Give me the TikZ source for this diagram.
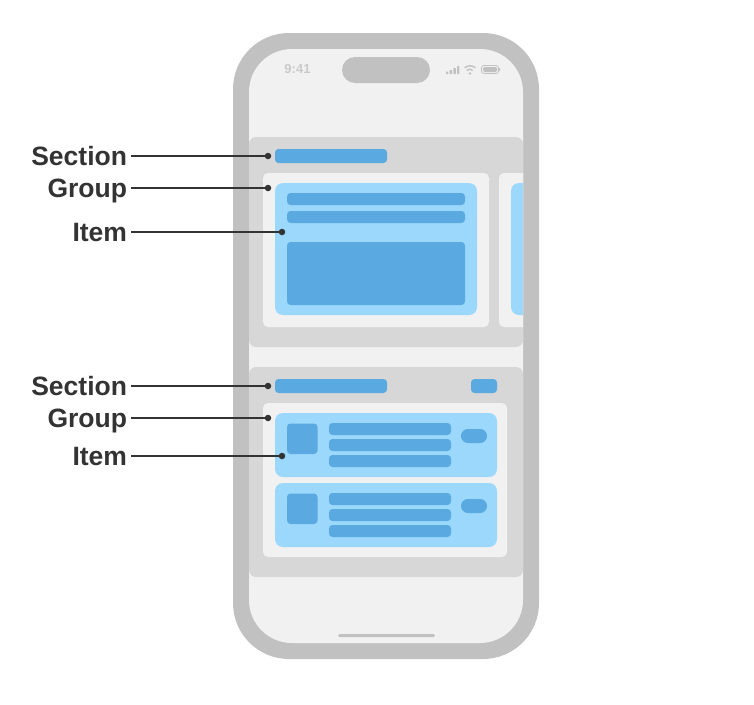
\documentclass[tikz,border=0pt]{standalone}
\usepackage{fontspec}
\usepackage{xcolor}
\setmainfont{Liberation Sans}
\usetikzlibrary{positioning}
\definecolor{frame}{HTML}{C1C1C1}
\definecolor{screen}{HTML}{F1F1F1}
\definecolor{panel}{HTML}{D7D7D7}
\definecolor{barblue}{HTML}{5AA9E1}
\definecolor{lightblue}{HTML}{9BD8FC}
\definecolor{darkgray}{HTML}{333333}

\begin{document}
\begin{tikzpicture}[
  x=1pt, y=-1pt,
  phone/.style={fill=frame, rounded corners=56pt},
  display/.style={fill=screen, rounded corners=43pt},
  section/.style={fill=panel, rounded corners=7pt},
  group/.style={fill=screen, rounded corners=5pt},
  item/.style={fill=lightblue, rounded corners=8pt},
  bar/.style={fill=barblue, rounded corners=3.5pt},
  pill/.style={fill=barblue, rounded corners=6.9pt},
  tag/.style={anchor=east, inner sep=0pt, outer sep=4pt, text height=24pt, text depth=6pt,
              font=\bfseries\fontsize{26.5}{28}\selectfont, text=darkgray},
  dot/.style={circle, fill=darkgray, inner sep=0pt, minimum size=6.5pt},
  leader/.style={draw=darkgray, line width=2.2pt}
]
  \useasboundingbox (0,0) rectangle (754,704);

  % phone body
  \fill[phone] (233,33) rectangle (539,659);
  \fill[display] (249,49) rectangle (523,643);
  \fill[frame, rounded corners=13pt] (342,57) rectangle (430,83);
  \fill[frame, rounded corners=1.5pt] (338,634) rectangle (435,637);

  % status bar
  \node[font=\bfseries\fontsize{13}{14}\selectfont, text=frame!85!white, inner sep=0pt] (clock) at (297.5,69) {9:41};
  \foreach \px/\py in {446/71.5, 449.7/70, 453.4/68, 457/66}
    \fill[frame, rounded corners=0.5pt] (\px,\py) rectangle (\px+2.4,74);
  \fill[frame] (470,73.5) circle (1.3pt);
  \draw[frame, line width=1.4pt] (466.6,70.4) arc[start angle=132, end angle=48, radius=4.6pt];
  \draw[frame, line width=1.4pt] (464.6,67.9) arc[start angle=132, end angle=48, radius=8.1pt];
  \draw[frame, line width=0.8pt, rounded corners=2.5pt] (481.5,65.5) rectangle (498.5,73.5);
  \fill[frame, rounded corners=1.5pt] (483,67) rectangle (497,72);
  \fill[frame, rounded corners=0.5pt] (499.2,68) rectangle (500.2,71);

  % first section
  \fill[section] (249,137) rectangle (523,347);
  \fill[bar] (275,149) rectangle (387,163);
  \fill[group] (263,173) rectangle (489,327);
  \fill[item] (275,183) rectangle (477,315);
  \fill[bar] (287,193) rectangle (465,205);
  \fill[bar] (287,211) rectangle (465,223);
  \fill[bar] (287,242) rectangle (465,305);
  \begin{scope}
    \clip (249,137) rectangle (523,347);
    \fill[group] (499,173) rectangle (560,327);
    \fill[item] (511,183) rectangle (560,315);
  \end{scope}

  % second section
  \fill[section] (249,367) rectangle (523,577);
  \fill[bar] (275,379) rectangle (387,393);
  \fill[bar] (471,379) rectangle (497,393);
  \fill[group] (263,403) rectangle (507,557);
  \foreach \oy in {0,70} {
    \fill[item] (275,413+\oy) rectangle (497,477+\oy);
    \fill[bar] (287,423.5+\oy) rectangle (317.5,454+\oy);
    \fill[bar] (329,423+\oy) rectangle (451,435+\oy);
    \fill[bar] (329,439+\oy) rectangle (451,451+\oy);
    \fill[bar] (329,455+\oy) rectangle (451,467+\oy);
    \fill[pill] (461,429+\oy) rectangle (487,443+\oy);
  }

  % callouts
  \node[tag] (sectionA) at (131,156) {Section};
  \node[tag] (groupA) at (131,188) {Group};
  \node[tag] (itemA) at (131,232) {Item};
  \node[tag] (sectionB) at (131,386) {Section};
  \node[tag] (groupB) at (131,418) {Group};
  \node[tag] (itemB) at (131,456) {Item};
  \node[dot] (dotSectionA) at (268,156) {};
  \node[dot] (dotGroupA) at (268,188) {};
  \node[dot] (dotItemA) at (282,232) {};
  \node[dot] (dotSectionB) at (268,386) {};
  \node[dot] (dotGroupB) at (268,418) {};
  \node[dot] (dotItemB) at (282,456) {};
  \draw[leader] (sectionA.east) -- (dotSectionA);
  \draw[leader] (groupA.east) -- (dotGroupA);
  \draw[leader] (itemA.east) -- (dotItemA);
  \draw[leader] (sectionB.east) -- (dotSectionB);
  \draw[leader] (groupB.east) -- (dotGroupB);
  \draw[leader] (itemB.east) -- (dotItemB);
\end{tikzpicture}
\end{document}
